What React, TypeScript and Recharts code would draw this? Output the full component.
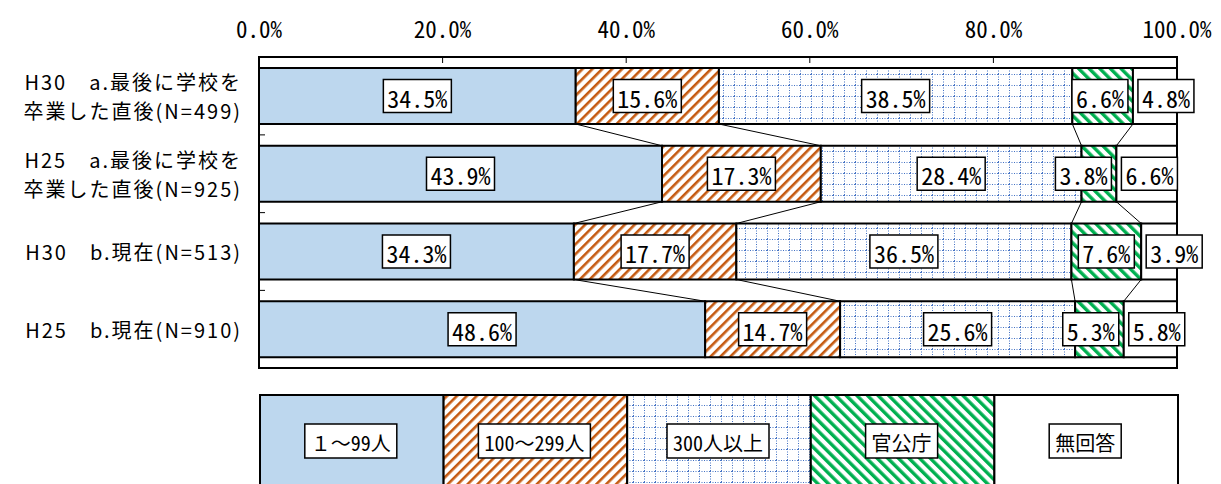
import React from "react";
import { BarChart, Bar, XAxis, YAxis, Legend, LabelList, ReferenceArea } from "recharts";

// rows, top to bottom
const categories = [
  ["H30　a.最後に学校を", "卒業した直後(N=499)"],
  ["H25　a.最後に学校を", "卒業した直後(N=925)"],
  ["H30　b.現在(N=513)"],
  ["H25　b.現在(N=910)"],
];

const seriesNames = ["１～99人", "100～299人", "300人以上", "官公庁", "無回答"];

// percentages per row
const small = [34.5, 43.9, 34.3, 48.6];
const medium = [15.6, 17.3, 17.7, 14.7];
const large = [38.5, 28.4, 36.5, 25.6];
const publicOffice = [6.6, 3.8, 7.6, 5.3];
const noAnswer = [4.8, 6.6, 3.9, 5.8];

const xTicks = [0, 20, 40, 60, 80, 100];

const SERIES = [
  { key: "s0", name: seriesNames[0], values: small, fill: "#BDD7EE" },
  { key: "s1", name: seriesNames[1], values: medium, fill: "url(#pOrange)" },
  { key: "s2", name: seriesNames[2], values: large, fill: "url(#pGrid)" },
  { key: "s3", name: seriesNames[3], values: publicOffice, fill: "url(#pGreen)" },
  { key: "s4", name: seriesNames[4], values: noAnswer, fill: "#FFFFFF" },
];

const data = categories.map((c, i) => {
  const row: any = { label: c.join("\n") };
  SERIES.forEach((s) => (row[s.key] = s.values[i]));
  return row;
});

// layout
const CHART_W = 1213;
const AXIS_TOP = 49;
const Y_AXIS_W = 251;
const RIGHT = 44;
const LEGEND_GAP = 26;
const LEGEND_H = 110;
const PLOT_H = 311;
const CHART_H = AXIS_TOP + PLOT_H + LEGEND_GAP + LEGEND_H;
const PLOT_W = CHART_W - Y_AXIS_W - RIGHT;
const BAND = PLOT_H / categories.length;

const MONO = "'Noto Sans Mono CJK JP', 'Noto Sans CJK JP', monospace";
const SANS = "'Noto Sans CJK JP', sans-serif";

const sum = (a: number[]) => a.reduce((t, v) => t + v, 0);

const makeShape = (k: number) => (p: any) => {
  const { x, y, width, height, index, fill } = p;
  const vals = SERIES.map((s) => s.values[index]);
  const unit = width / vals[k];
  const origin = x - sum(vals.slice(0, k)) * unit;
  const next = index + 1;
  let connector = null;
  if (k < SERIES.length - 1 && next < categories.length) {
    const nextEnd = sum(SERIES.slice(0, k + 1).map((s) => s.values[next]));
    connector = (
      <line x1={x + width} y1={y + height} x2={origin + nextEnd * unit} y2={y + BAND} stroke="#000" strokeWidth={1} />
    );
  }
  let tick = null;
  if (k === 0 && next < categories.length) {
    const ty = y + height + (BAND - height) / 2;
    tick = <line x1={x} x2={x + 6} y1={ty} y2={ty} stroke="#000" strokeWidth={1} />;
  }
  return (
    <g>
      <rect x={x} y={y} width={width} height={height} fill={fill} stroke="#000" strokeWidth={2} />
      {connector}
      {tick}
    </g>
  );
};

const makeLabel = (k: number) => (p: any) => {
  const { x, y, width, height, value } = p;
  const text = `${Number(value).toFixed(1)}%`;
  const w = text.length * 12 + 8;
  const h = 33;
  let cx = x + width / 2;
  if (k === SERIES.length - 1) cx = x + 5 + w / 2;
  // narrow hatched segment: keep the box clear of the next one
  if (k === SERIES.length - 2) cx = Math.min(cx, x + width - 5 - w / 2);
  const cy = y + height / 2;
  return (
    <g>
      <rect x={cx - w / 2} y={cy - h / 2} width={w} height={h} fill="#fff" stroke="#000" strokeWidth={1.5} />
      <text x={cx} y={cy + 1} textAnchor="middle" dominantBaseline="central" fontSize={24} fontFamily={MONO} fill="#000">
        {text}
      </text>
    </g>
  );
};

const XTick = ({ x, y, payload }: any) => (
  <g>
    <text x={x} y={y - 29} textAnchor="middle" dominantBaseline="central" fontSize={23} fontFamily={MONO} fill="#000">
      {`${Number(payload.value).toFixed(1)}%`}
    </text>
    <line x1={x} x2={x} y1={y} y2={y + 6} stroke="#000" strokeWidth={1} />
  </g>
);

const YTick = ({ x, y, payload }: any) => {
  const lines = String(payload.value).split("\n");
  const lh = 29;
  return (
    <g>
      {lines.map((l, i) => (
        <text
          key={i}
          x={x}
          y={y + (i - (lines.length - 1) / 2) * lh}
          textAnchor="end"
          dominantBaseline="central"
          fontSize={20}
          letterSpacing={2}
          fontFamily={SANS}
          fill="#000"
        >
          {l}
        </text>
      ))}
    </g>
  );
};

const charW = (s: string, fs: number) =>
  Array.from(s).reduce((t, c) => t + (c.charCodeAt(0) > 0xff ? fs : fs / 2), 0);

const LegendBox = () => {
  const cw = PLOT_W / SERIES.length;
  return (
    <div style={{ paddingTop: LEGEND_GAP, paddingLeft: Y_AXIS_W, lineHeight: 0 }}>
      <svg width={PLOT_W + 2} height={LEGEND_H} style={{ display: "block", overflow: "visible" }}>
        {SERIES.map((s, i) => {
          const lw = charW(s.name, 20) + 12;
          const cx = i * cw + cw / 2;
          const cy = 47;
          return (
            <g key={s.key}>
              <rect x={i * cw + 1} y={1} width={cw} height={LEGEND_H + 20} fill={s.fill} stroke="#000" strokeWidth={2} />
              <rect x={cx - lw / 2} y={cy - 17} width={lw} height={34} fill="#fff" stroke="#000" strokeWidth={1.5} />
              <text x={cx} y={cy + 1} textAnchor="middle" dominantBaseline="central" fontSize={20} fontFamily={MONO} fill="#000">
                {s.name}
              </text>
            </g>
          );
        })}
      </svg>
    </div>
  );
};

export default function App() {
  return (
    <div style={{ width: CHART_W, height: CHART_H }}>
      <svg width={0} height={0} style={{ position: "absolute" }}>
        <defs>
          <pattern id="pOrange" width="7" height="7" patternUnits="userSpaceOnUse" patternTransform="rotate(45)">
            <rect width="7" height="7" fill="#fff" />
            <rect x="0" y="0" width="2.6" height="7" fill="#C55A11" />
          </pattern>
          <pattern id="pGreen" width="7.5" height="7.5" patternUnits="userSpaceOnUse" patternTransform="rotate(-45)">
            <rect width="7.5" height="7.5" fill="#fff" />
            <rect x="0" y="0" width="3.4" height="7.5" fill="#00B050" />
          </pattern>
          <pattern id="pGrid" width="11" height="11" patternUnits="userSpaceOnUse">
            <rect width="11" height="11" fill="#fff" />
            <line x1="0.5" y1="0" x2="0.5" y2="11" stroke="#4472C4" strokeWidth="1" strokeDasharray="1 1.5" />
            <line x1="0" y1="0.5" x2="11" y2="0.5" stroke="#4472C4" strokeWidth="1" strokeDasharray="1 1.5" />
          </pattern>
        </defs>
      </svg>
      <BarChart
        width={CHART_W}
        height={CHART_H}
        data={data}
        layout="vertical"
        margin={{ top: 0, right: RIGHT, bottom: 0, left: 0 }}
        barSize={56}
      >
        <XAxis
          type="number"
          orientation="top"
          domain={[0, 100]}
          ticks={xTicks}
          interval={0}
          height={AXIS_TOP}
          axisLine={false}
          tickLine={false}
          tickSize={0}
          tickMargin={0}
          tick={<XTick />}
        />
        <YAxis
          type="category"
          dataKey="label"
          width={Y_AXIS_W}
          axisLine={false}
          tickLine={false}
          tickSize={0}
          tickMargin={17}
          tick={<YTick />}
        />
        <ReferenceArea x1={0} x2={100} fill="none" fillOpacity={0} stroke="#000" strokeWidth={2} />
        {SERIES.map((s, k) => (
          <Bar
            key={s.key}
            dataKey={s.key}
            name={s.name}
            stackId="a"
            fill={s.fill}
            shape={makeShape(k)}
            isAnimationActive={false}
          >
            <LabelList dataKey={s.key} content={makeLabel(k)} />
          </Bar>
        ))}
        <Legend
          verticalAlign="bottom"
          content={<LegendBox />}
          wrapperStyle={{ left: 0, width: CHART_W }}
        />
      </BarChart>
    </div>
  );
}
